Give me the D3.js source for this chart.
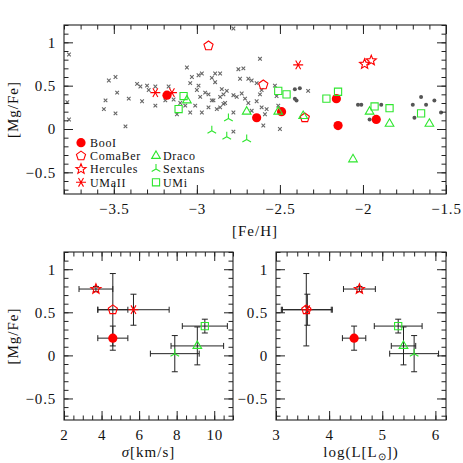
<!DOCTYPE html>
<html>
<head>
<meta charset="utf-8">
<script src="https://cdn.jsdelivr.net/npm/d3@7"></script>
<style>
  body { margin: 0; background: #fff; }
  text { font-family: "Liberation Serif", "Times New Roman", serif; fill: #111; }
</style>
</head>
<body>
<svg id="chart" width="463" height="463"></svg>
<script>
// individual stars, [Fe/H] and [Mg/Fe]
var booI     = [[-3.18, 0.39], [-2.64, 0.13], [-2.49, 0.20], [-2.16, 0.35], [-2.15, 0.04], [-1.92, 0.11]];
var comaBer  = [[-2.93, 0.96], [-2.60, 0.51], [-2.35, 0.13]];
var hercules = [[-1.99, 0.75], [-1.95, 0.79]];
var umaII    = [[-3.25, 0.42], [-3.15, 0.42], [-2.39, 0.74]];
var draco    = [[-3.06, 0.33], [-2.70, 0.20], [-2.51, 0.20], [-2.36, 0.15], [-2.06, -0.35], [-1.96, 0.20], [-1.84, 0.06], [-1.60, 0.06]];
var sextans  = [[-2.81, 0.12], [-2.91, -0.02], [-2.82, -0.09], [-2.70, -0.12]];
var umi      = [[-3.08, 0.38], [-3.11, 0.23], [-2.51, 0.44], [-2.46, 0.40], [-2.22, 0.35], [-2.15, 0.43], [-1.93, 0.26], [-1.84, 0.24], [-1.65, 0.18]];

// halo comparison stars (gray crosses and gray dots)
var haloCross = [[-3.77, 0.86], [-3.49, 0.60], [-3.53, 0.56], [-3.48, 0.42], [-3.55, 0.33], [-3.56, 0.23], [-3.49, 0.18],
  [-3.43, 0.03], [-3.78, 0.31], [-3.77, 0.11], [-3.41, 0.35], [-3.36, 0.52], [-3.34, 0.49], [-3.33, 0.32], [-3.30, 0.50],
  [-3.29, 0.45], [-3.25, 0.49], [-3.25, 0.27], [-3.17, 0.49], [-3.19, 0.33], [-3.14, 0.34], [-3.10, 0.30], [-3.12, 0.17],
  [-3.06, 0.71], [-3.03, 0.60], [-3.04, 0.53], [-2.99, 0.62], [-2.97, 0.64], [-2.99, 0.50], [-3.00, 0.45], [-2.98, 0.37],
  [-2.95, 0.42], [-2.93, 0.40], [-2.91, 0.33], [-3.01, 0.27], [-3.04, 0.19], [-3.07, 0.27], [-2.97, 0.19], [-2.93, 0.25],
  [-2.91, 0.59], [-2.78, 1.16], [-2.62, 0.81], [-2.75, 0.69], [-2.72, 0.70], [-2.89, 0.64], [-2.86, 0.64], [-2.89, 0.54],
  [-2.74, 0.58], [-2.69, 0.58], [-2.67, 0.56], [-2.64, 0.53], [-2.85, 0.46], [-2.82, 0.44], [-2.84, 0.40], [-2.86, 0.37],
  [-2.90, 0.33], [-2.78, 0.39], [-2.76, 0.37], [-2.73, 0.41], [-2.71, 0.35], [-2.69, 0.30], [-2.64, 0.32], [-2.61, 0.45],
  [-2.62, 0.40], [-2.52, 0.38], [-2.83, 0.30], [-2.84, 0.29], [-2.88, 0.23], [-2.86, 0.25], [-2.78, 0.19], [-2.61, 0.25],
  [-2.58, 0.23], [-2.67, 0.21], [-2.59, 0.17], [-2.60, 0.04], [-2.78, -0.03], [-2.50, 0.00], [-2.51, 0.27], [-2.53, 0.50],
  [-2.33, 0.44]];
var haloDot = [[-2.41, 0.46], [-2.38, 0.47], [-2.41, 0.35], [-2.40, 0.33], [-2.03, 0.28], [-2.01, 0.28], [-1.89, 0.28],
  [-1.96, 0.11], [-1.70, 0.28], [-1.65, 0.37], [-1.62, 0.28], [-1.57, 0.33], [-1.69, 0.13], [-1.53, 0.19]];

// galaxy means (lower panels)
var galaxies  = ['BooI', 'ComaBer', 'Hercules', 'UMaII', 'Draco', 'Sextans', 'UMi'];
var meanMg    = [0.20, 0.53, 0.77, 0.53, 0.11, 0.02, 0.34];
var meanMgErr = [0.14, 0.42, 0.03, 0.18, 0.22, 0.21, 0.08];
var sigma     = [4.6, 4.6, 3.7, 5.7, 9.1, 7.9, 9.5];
var sigmaErr  = [0.8, 0.8, 0.9, 1.9, 1.4, 1.3, 1.2];
var logL      = [4.47, 3.57, 4.57, 3.59, 5.40, 5.60, 5.30];
var logLErr   = [0.22, 0.47, 0.30, 0.47, 0.23, 0.46, 0.45];

var stars = [booI, comaBer, hercules, umaII, draco, sextans, umi];
var RED = '#ff0000', GREEN = '#2ee62e';
var style = {
  BooI:     {sym: 'circle',   color: RED},
  ComaBer:  {sym: 'pentagon', color: RED},
  Hercules: {sym: 'star',     color: RED},
  UMaII:    {sym: 'asterisk', color: RED},
  Draco:    {sym: 'triangle', color: GREEN},
  Sextans:  {sym: 'tripod',   color: GREEN},
  UMi:      {sym: 'square',   color: GREEN}
};

var svg = d3.select('#chart');
var fmt = function(d) { return d < 0 ? '\u2212' + Math.abs(d) : '' + d; };

// marker paths, centred on 0,0
function poly(n, r, rot, r2) {
  var pts = [], k, a, rr;
  var m = r2 ? n * 2 : n;
  for (k = 0; k < m; k++) {
    a = rot + k * 2 * Math.PI / m;
    rr = r2 && k % 2 ? r2 : r;
    pts.push([rr * Math.cos(a), rr * Math.sin(a)]);
  }
  return 'M' + pts.join('L') + 'Z';
}
function symPath(type) {
  var up = -Math.PI / 2;
  switch (type) {
    case 'circle': return 'M4.6,0A4.6,4.6 0 1,1 -4.6,0A4.6,4.6 0 1,1 4.6,0Z';
    case 'pentagon': return poly(5, 4.8, up);
    case 'star': return poly(5, 5.3, up, 2.3);
    case 'triangle': return poly(3, 5, up);
    case 'square': return 'M-3.6,-3.6H3.6V3.6H-3.6Z';
    case 'asterisk':
      return [0, 60, 120].map(function(deg) {
        var a = deg * Math.PI / 180, c = 5 * Math.cos(a), s = 5 * Math.sin(a);
        return 'M' + (-c) + ',' + (-s) + 'L' + c + ',' + s;
      }).join('');
    case 'tripod':
      return [-90, 30, 150].map(function(deg) {
        var a = deg * Math.PI / 180;
        return 'M0,0L' + 5 * Math.cos(a) + ',' + 5 * Math.sin(a);
      }).join('');
  }
}
function marker(g, name, x, y) {
  var s = style[name];
  var filled = s.sym === 'circle';
  return g.append('path')
    .attr('d', symPath(s.sym))
    .attr('transform', 'translate(' + x + ',' + y + ')')
    .attr('fill', filled ? s.color : 'none')
    .attr('stroke', s.color)
    .attr('stroke-width', filled ? 0 : 1.1);
}

// frame with inward ticks on all four sides
function frame(x, y, xt, yt, yLabels) {
  var g = svg.append('g');
  var x0 = x.range()[0], x1 = x.range()[1], y0 = y.range()[0], y1 = y.range()[1];
  function ticks(axisFn, scale, vals, len, pos, labels) {
    var a = axisFn(scale).tickValues(vals).tickSizeInner(-len).tickSizeOuter(0)
      .tickPadding(labels ? (axisFn === d3.axisBottom ? 9 : 8) : 0)
      .tickFormat(labels ? fmt : '');
    var ag = g.append('g').attr('transform', pos).call(a);
    ag.attr('font-family', null);
    ag.select('.domain').remove();
    ag.selectAll('line').attr('stroke', '#222').attr('stroke-width', 1);
    ag.selectAll('text').attr('font-size', 15).attr('letter-spacing', 0.8)
      .attr('font-family', '"Liberation Serif", serif').attr('fill', '#111');
  }
  ticks(d3.axisBottom, x, xt.minor, 4.5, 'translate(0,' + y0 + ')', false);
  ticks(d3.axisBottom, x, xt.major, 9, 'translate(0,' + y0 + ')', true);
  ticks(d3.axisTop, x, xt.minor, 4.5, 'translate(0,' + y1 + ')', false);
  ticks(d3.axisTop, x, xt.major, 9, 'translate(0,' + y1 + ')', false);
  ticks(d3.axisLeft, y, yt.minor, 4.5, 'translate(' + x0 + ',0)', false);
  ticks(d3.axisLeft, y, yt.major, 9, 'translate(' + x0 + ',0)', yLabels);
  ticks(d3.axisRight, y, yt.minor, 4.5, 'translate(' + x1 + ',0)', false);
  ticks(d3.axisRight, y, yt.major, 9, 'translate(' + x1 + ',0)', false);
  g.append('rect').attr('x', x0).attr('y', y1).attr('width', x1 - x0).attr('height', y0 - y1)
    .attr('fill', 'none').attr('stroke', '#222').attr('stroke-width', 1.1);
  return g;
}
function stepRange(a, b, s) {
  return d3.range(Math.round((b - a) / s) + 1).map(function(i) { return +(a + i * s).toFixed(3); });
}
var mgTicks = {minor: stepRange(-0.7, 1.2, 0.1), major: [-0.5, 0, 0.5, 1]};

// ---- top panel: [Mg/Fe] vs [Fe/H]
var xTop = d3.scaleLinear().domain([-3.8, -1.5]).range([64, 446]);
var yTop = d3.scaleLinear().domain([-0.75, 1.2]).range([194, 25]);
var gTop = svg.append('g');

gTop.selectAll('path.cross').data(haloCross).enter().append('path')
  .attr('class', 'cross')
  .attr('d', function(d) {
    var cx = xTop(d[0]), cy = yTop(d[1]), h = 1.8;
    return 'M' + (cx - h) + ',' + (cy - h) + 'L' + (cx + h) + ',' + (cy + h) +
           'M' + (cx - h) + ',' + (cy + h) + 'L' + (cx + h) + ',' + (cy - h);
  })
  .attr('stroke', '#666').attr('stroke-width', 1.1).attr('fill', 'none');
gTop.selectAll('circle.dot').data(haloDot).enter().append('circle')
  .attr('class', 'dot')
  .attr('cx', function(d) { return xTop(d[0]); })
  .attr('cy', function(d) { return yTop(d[1]); })
  .attr('r', 2).attr('fill', '#555');

galaxies.forEach(function(name, i) {
  stars[i].forEach(function(d) { marker(gTop, name, xTop(d[0]), yTop(d[1])); });
});

frame(xTop, yTop, {minor: stepRange(-3.8, -1.5, 0.1), major: [-3.5, -3, -2.5, -2, -1.5]}, mgTicks, true);

// legend
galaxies.forEach(function(name, i) {
  var col = i < 4 ? 0 : 1, row = i < 4 ? i : i - 3;
  var sx = col ? 156 : 81, ty = 142.7 + row * 13.2;
  marker(svg, name, sx, ty);
  svg.append('text').attr('x', sx + (col ? 7 : 9)).attr('y', ty + 4.3)
    .attr('font-size', 12).attr('letter-spacing', 0.7).text(name);
});

svg.append('text').attr('x', 255).attr('y', 236).attr('text-anchor', 'middle')
  .attr('font-size', 15).attr('letter-spacing', 1).text('[Fe/H]');
svg.append('text').attr('transform', 'translate(18,109.5) rotate(-90)').attr('text-anchor', 'middle')
  .attr('font-size', 15).attr('letter-spacing', 1).text('[Mg/Fe]');

// ---- lower panels: mean [Mg/Fe] vs sigma and luminosity
function lowerPanel(x, xs, xe, xt) {
  var y = d3.scaleLinear().domain([-0.75, 1.2]).range([420, 252]);
  var g = svg.append('g');
  galaxies.forEach(function(name, i) {
    var cx = x(xs[i]), cy = y(meanMg[i]);
    var xa = x(xs[i] - xe[i]), xb = x(xs[i] + xe[i]);
    var ya = y(meanMg[i] - meanMgErr[i]), yb = y(meanMg[i] + meanMgErr[i]);
    var p = 'M' + xa + ',' + cy + 'H' + xb +
            'M' + xa + ',' + (cy - 3) + 'V' + (cy + 3) +
            'M' + xb + ',' + (cy - 3) + 'V' + (cy + 3) +
            'M' + cx + ',' + ya + 'V' + yb +
            'M' + (cx - 3) + ',' + ya + 'H' + (cx + 3) +
            'M' + (cx - 3) + ',' + yb + 'H' + (cx + 3);
    g.append('path').attr('d', p).attr('stroke', '#222').attr('stroke-width', 1).attr('fill', 'none');
  });
  galaxies.forEach(function(name, i) { marker(g, name, x(xs[i]), y(meanMg[i])); });
  frame(x, y, xt, mgTicks, true);
}

var xSig = d3.scaleLinear().domain([2, 11]).range([64, 233]);
lowerPanel(xSig, sigma, sigmaErr, {minor: stepRange(2, 11, 0.5), major: [2, 4, 6, 8, 10]});
var xLum = d3.scaleLinear().domain([3, 6.2]).range([276, 446]);
lowerPanel(xLum, logL, logLErr, {minor: stepRange(3, 6.2, 0.2), major: [3, 4, 5, 6]});

svg.append('text').attr('transform', 'translate(18,336) rotate(-90)').attr('text-anchor', 'middle')
  .attr('font-size', 15).attr('letter-spacing', 1).text('[Mg/Fe]');
var t1 = svg.append('text').attr('x', 148.5).attr('y', 457).attr('text-anchor', 'middle')
  .attr('font-size', 15).attr('letter-spacing', 1);
t1.append('tspan').attr('font-style', 'italic').text('\u03c3');
t1.append('tspan').text('[km/s]');
var t2 = svg.append('text').attr('x', 361).attr('y', 457).attr('text-anchor', 'middle')
  .attr('font-size', 15).attr('letter-spacing', 1);
t2.append('tspan').text('log(L[L');
t2.append('tspan').attr('font-size', 10).attr('dy', 3).text('\u2299');
t2.append('tspan').attr('dy', -3).text('])');
</script>
</body>
</html>
